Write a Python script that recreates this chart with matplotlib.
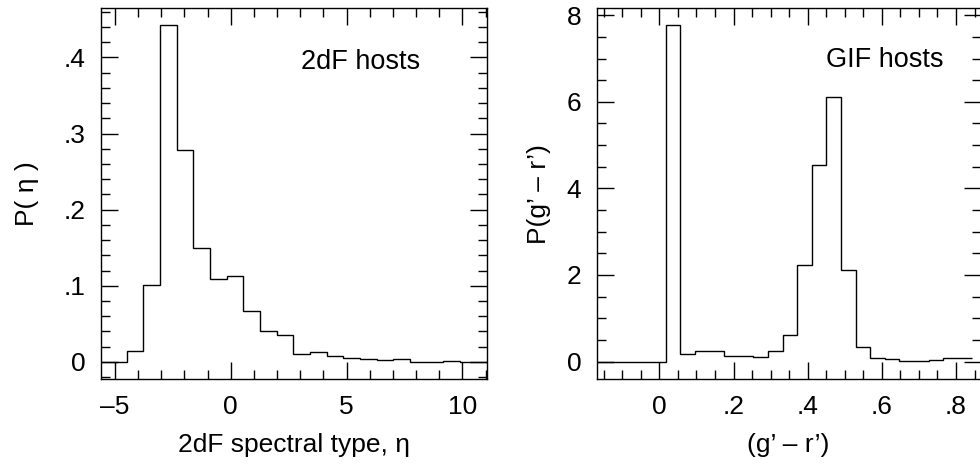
import matplotlib
matplotlib.use("Agg")
import matplotlib.pyplot as plt
from matplotlib.ticker import MultipleLocator, FixedLocator, FixedFormatter

plt.rcParams['font.family'] = ['Liberation Sans', 'DejaVu Sans']

# ---- data: 2dF hosts (spectral type eta) ----
eta_edges = [-5.935, -5.215, -4.495, -3.775, -3.055, -2.335, -1.615, -0.895,
             -0.175, 0.545, 1.265, 1.985, 2.705, 3.425, 4.145, 4.865, 5.585,
             6.305, 7.025, 7.745, 8.465, 9.185, 9.905, 10.625, 11.345]
eta_prob = [0.0, 0.0, 0.014, 0.101, 0.443, 0.278, 0.149, 0.109, 0.113, 0.067,
            0.041, 0.035, 0.011, 0.013, 0.008, 0.0057, 0.0044, 0.0022, 0.0035,
            0.0, 0.0, 0.0013, 0.0, 0.0]
eta_xticks = [-5, 0, 5, 10]
eta_xticklabels = ['\u20135', '0', '5', '10']
eta_yticks = [0, 0.1, 0.2, 0.3, 0.4]
eta_yticklabels = ['0', '.1', '.2', '.3', '.4']

# ---- data: GIF hosts (g' - r' colour) ----
gr_edges = [-0.18, -0.1406, -0.1012, -0.0618, -0.0224, 0.017, 0.0564, 0.0958,
            0.1352, 0.1746, 0.214, 0.2534, 0.2928, 0.3322, 0.3716, 0.411,
            0.4504, 0.4898, 0.5292, 0.5686, 0.608, 0.6474, 0.6868, 0.7262,
            0.7656, 0.805, 0.8444]
gr_prob = [0.0, 0.0, 0.0, 0.0, 0.0, 7.77, 0.177, 0.246, 0.246, 0.13, 0.13,
           0.108, 0.246, 0.615, 2.22, 4.54, 6.1, 2.12, 0.33, 0.085, 0.06,
           0.023, 0.008, 0.04, 0.077, 0.085]
gr_xticks = [0, 0.2, 0.4, 0.6, 0.8]
gr_xticklabels = ['0', '.2', '.4', '.6', '.8']
gr_yticks = [0, 2, 4, 6, 8]
gr_yticklabels = ['0', '2', '4', '6', '8']

fig = plt.figure(figsize=(9.8, 4.71), dpi=100)
W, H = 980.0, 471.0
ax1 = fig.add_axes([101 / W, 1 - 379 / H, (486.7 - 101) / W, (379 - 8) / H])
ax2 = fig.add_axes([596.7 / W, 1 - 379.3 / H, (980.5 - 596.7) / W, (379.3 - 8.3) / H])

FS = 19
FS_NOTE = 19.5


def style(ax, xmin, ymin):
    for s in ax.spines.values():
        s.set_linewidth(1.0)
    ax.tick_params(which='both', direction='in', top=True, right=True,
                   width=1.0, colors='black', labelsize=FS)
    ax.tick_params(which='major', length=12)
    ax.tick_params(which='minor', length=6.3)
    ax.tick_params(axis='x', which='major', pad=11.5)
    ax.tick_params(axis='y', which='major', pad=11)
    ax.xaxis.set_minor_locator(MultipleLocator(xmin))
    ax.yaxis.set_minor_locator(MultipleLocator(ymin))


ax1.stairs(eta_prob, eta_edges, baseline=None, color='black', linewidth=1.0)
ax1.set_xlim(-5.6, 11.05)
ax1.set_ylim(-0.0225, 0.465)
ax1.xaxis.set_major_locator(FixedLocator(eta_xticks))
ax1.xaxis.set_major_formatter(FixedFormatter(eta_xticklabels))
ax1.yaxis.set_major_locator(FixedLocator(eta_yticks))
ax1.yaxis.set_major_formatter(FixedFormatter(eta_yticklabels))
style(ax1, 1, 0.02)
ax1.set_xlabel('2dF spectral type, \u03b7', fontsize=FS, labelpad=10)
ax1.set_ylabel('P( \u03b7 )', fontsize=FS, labelpad=18)
ax1.text(360.7 / W, 1 - 62 / H, '2dF hosts', transform=fig.transFigure,
         fontsize=FS_NOTE, ha='center', va='center')

ax2.stairs(gr_prob, gr_edges, baseline=None, color='black', linewidth=1.0)
ax2.set_xlim(-0.169, 0.866)
ax2.set_ylim(-0.41, 8.16)
ax2.xaxis.set_major_locator(FixedLocator(gr_xticks))
ax2.xaxis.set_major_formatter(FixedFormatter(gr_xticklabels))
ax2.yaxis.set_major_locator(FixedLocator(gr_yticks))
ax2.yaxis.set_major_formatter(FixedFormatter(gr_yticklabels))
style(ax2, 0.05, 0.5)
ax2.set_xlabel('(g\u2019 \u2013 r\u2019)', fontsize=FS, labelpad=10)
ax2.set_ylabel('P(g\u2019 \u2013 r\u2019)', fontsize=FS, labelpad=11)
ax2.text(885 / W, 1 - 60 / H, 'GIF hosts', transform=fig.transFigure,
         fontsize=FS_NOTE, ha='center', va='center')

fig.savefig('out.png', dpi=100)
